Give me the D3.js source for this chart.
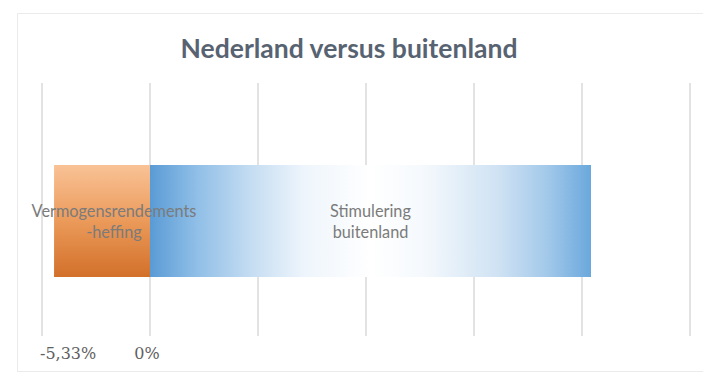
<!DOCTYPE html>
<html><head><meta charset="utf-8">
<script src="https://cdn.jsdelivr.net/npm/d3@7"></script>
<style>
html,body{margin:0;padding:0;background:#fff;}
svg{display:block;}
</style></head>
<body>
<div id="chart"></div>
<script>
const title = "Nederland versus buitenland";
const segmentNames = [["Vermogensrendements", "-heffing"], ["Stimulering", "buitenland"]];
const segmentValues = [-5.33, 24.5];
const gridValues = [-6, 0, 6, 12, 18, 24, 30];
const tickLabelValues = [-6, 0];
const tickLabels = ["-5,33%", "0%"];

const W = 703, H = 376;
const svg = d3.select("#chart").append("svg").attr("width", W).attr("height", H);
const defs = svg.append("defs");

const og = defs.append("linearGradient").attr("id", "gOrange").attr("x1", 0).attr("y1", 0).attr("x2", 0).attr("y2", 1);
[[0, "#f9c296"], [0.5, "#eb9a5a"], [1, "#d2702a"]].forEach(([o, c]) => og.append("stop").attr("offset", o).attr("stop-color", c));

const bg = defs.append("linearGradient").attr("id", "gBlue").attr("x1", 0).attr("y1", 0).attr("x2", 1).attr("y2", 0);
[[0, "#5a9bd5"], [0.1, "#8dbde6"], [0.23, "#c5ddf2"], [0.35, "#eef5fc"], [0.5, "#ffffff"], [0.62, "#f5f9fd"], [0.79, "#cfe2f3"], [0.9, "#a3c9ea"], [1, "#6aa8dc"]]
  .forEach(([o, c]) => bg.append("stop").attr("offset", o).attr("stop-color", c));

// chart frame
svg.append("rect").attr("x", 17.5).attr("y", 13.5).attr("width", 700).attr("height", 358)
  .attr("fill", "#fff").attr("stroke", "#ebebeb");

const x = d3.scaleLinear().domain([-6, 30]).range([42, 690]);
const y = d3.scaleBand().domain([0]).range([165, 277]).padding(0);

// gridlines
svg.append("g").selectAll("line").data(gridValues).join("line")
  .attr("x1", d => x(d)).attr("x2", d => x(d))
  .attr("y1", 83).attr("y2", 336)
  .attr("stroke", "#dadada").attr("stroke-width", 1.5);

// title
svg.append("text").attr("x", 349).attr("y", 58).attr("text-anchor", "middle")
  .attr("font-family", "Lato, sans-serif").attr("font-weight", "bold").attr("font-size", 26.5)
  .attr("fill", "#586372").text(title);

// bars
const segs = segmentValues.map((v, i) => ({ v, i, x0: Math.min(0, v), x1: Math.max(0, v) }));
svg.append("g").selectAll("rect").data(segs).join("rect")
  .attr("x", d => x(d.x0)).attr("width", d => x(d.x1) - x(d.x0))
  .attr("y", y(0)).attr("height", y.bandwidth())
  .attr("fill", d => d.i === 0 ? "url(#gOrange)" : "url(#gBlue)");

// segment labels
const lbl = svg.append("g").selectAll("text").data(segs).join("text")
  .attr("y", y(0) + y.bandwidth() / 2)
  .attr("text-anchor", "middle")
  .attr("font-family", "Lato, sans-serif").attr("font-size", 16.3)
  .attr("fill", "#7b7b7b");
lbl.each(function (d) {
  const t = d3.select(this);
  segmentNames[d.i].forEach((s, k) => {
    t.append("tspan").attr("x", (x(d.x0) + x(d.x1)) / 2).attr("dx", d.i === 0 ? 12 : 0)
      .attr("dy", k === 0 ? -4 : 21).text(s);
  });
});

// tick labels
svg.append("g").selectAll("text").data(tickLabels).join("text")
  .attr("x", (d, i) => x(tickLabelValues[i]))
  .attr("dx", (d, i) => i === 0 ? -2 : -3)
  .attr("y", 359)
  .attr("text-anchor", (d, i) => i === 0 ? "start" : "middle")
  .attr("font-family", "'DejaVu Serif', serif").attr("font-size", 16)
  .attr("fill", "#606060").text(d => d);
</script>
</body></html>
